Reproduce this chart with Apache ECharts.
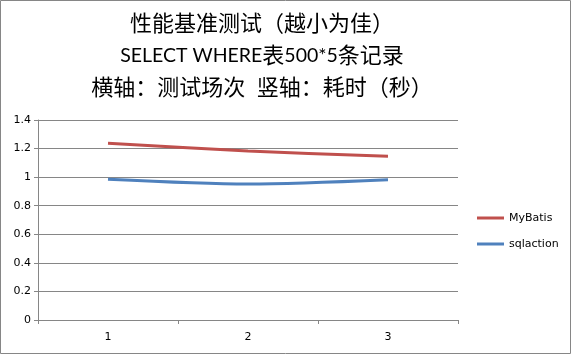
<!DOCTYPE html>
<html><head><meta charset="utf-8">
<script src="https://cdn.jsdelivr.net/npm/echarts@6/dist/echarts.min.js"></script>
<style>html,body{margin:0;padding:0;background:#fff}#c{width:571px;height:354px}</style>
</head><body><div id="c"></div>
<script>
const categories = ['1', '2', '3'];
const seriesNames = ['MyBatis', 'sqlaction'];
const mybatis = [1.237, 1.183, 1.146];
const sqlaction = [0.985, 0.952, 0.982];
const yTicks = [0, 0.2, 0.4, 0.6, 0.8, 1, 1.2, 1.4];
const titleLine1 = '性能基准测试（越小为佳）';
const titleLine2Parts = [['lat', 'SELECT WHERE'], ['cjk', '表'], ['lat', '500*5'], ['cjk', '条记录']];
const titleLine3 = '横轴：测试场次  竖轴：耗时（秒）';

const titleText = '{cjk|' + titleLine1 + '}\n' +
  titleLine2Parts.map(p => '{' + p[0] + '|' + p[1] + '}').join('') + '\n' +
  '{cjk|' + titleLine3 + '}';

const chart = echarts.init(document.getElementById('c'), null, {renderer: 'canvas'});
const axisFont = {fontFamily: 'DejaVu Sans', fontSize: 11, color: '#000'};
chart.setOption({
  animation: false,
  backgroundColor: '#fff',
  graphic: [{type: 'rect', shape: {x: 0.5, y: 0.5, width: 570, height: 353}, style: {fill: 'none', stroke: '#868686', lineWidth: 1}, silent: true}],
  title: {
    text: titleText,
    left: 257, textAlign: 'center', top: 3,
    textStyle: {
      fontFamily: "'Noto Sans CJK SC'", fontSize: 22, fontWeight: 'normal', color: '#000', lineHeight: 32,
      rich: {
        cjk: {fontFamily: "Lato, 'Noto Sans CJK SC'", fontSize: 22, color: '#000', lineHeight: 32},
        lat: {fontFamily: "Lato, 'Noto Sans'", fontSize: 19.5, color: '#000', lineHeight: 32}
      }
    }
  },
  legend: {
    orient: 'vertical', left: 472, top: 206,
    icon: 'rect', itemWidth: 27, itemHeight: 3, itemGap: 12,
    textStyle: {fontFamily: 'DejaVu Sans', fontSize: 11, color: '#000', lineHeight: 14},
    data: seriesNames
  },
  grid: {left: 38, right: 113, top: 120, bottom: 34, containLabel: false},
  xAxis: {
    type: 'category', data: categories, boundaryGap: true,
    axisLine: {lineStyle: {color: '#868686', width: 1}},
    axisTick: {show: true, length: 4, lineStyle: {color: '#868686'}},
    axisLabel: Object.assign({margin: 12}, axisFont),
    splitLine: {show: false}
  },
  yAxis: {
    type: 'value', min: 0, max: 1.4, interval: 0.2,
    axisLine: {show: true, lineStyle: {color: '#868686', width: 1}},
    axisTick: {show: true, length: 4, lineStyle: {color: '#868686'}},
    axisLabel: Object.assign({margin: 7, formatter: v => String(+v.toFixed(1))}, axisFont),
    splitLine: {show: true, lineStyle: {color: '#868686', width: 1}}
  },
  series: [
    {name: seriesNames[0], type: 'line', data: mybatis, smooth: 0.3, showSymbol: false, symbol: 'none',
     lineStyle: {color: '#C0504D', width: 3}, itemStyle: {color: '#C0504D'}},
    {name: seriesNames[1], type: 'line', data: sqlaction, smooth: 0.3, showSymbol: false, symbol: 'none',
     lineStyle: {color: '#4F81BD', width: 3}, itemStyle: {color: '#4F81BD'}}
  ]
});
</script></body></html>
